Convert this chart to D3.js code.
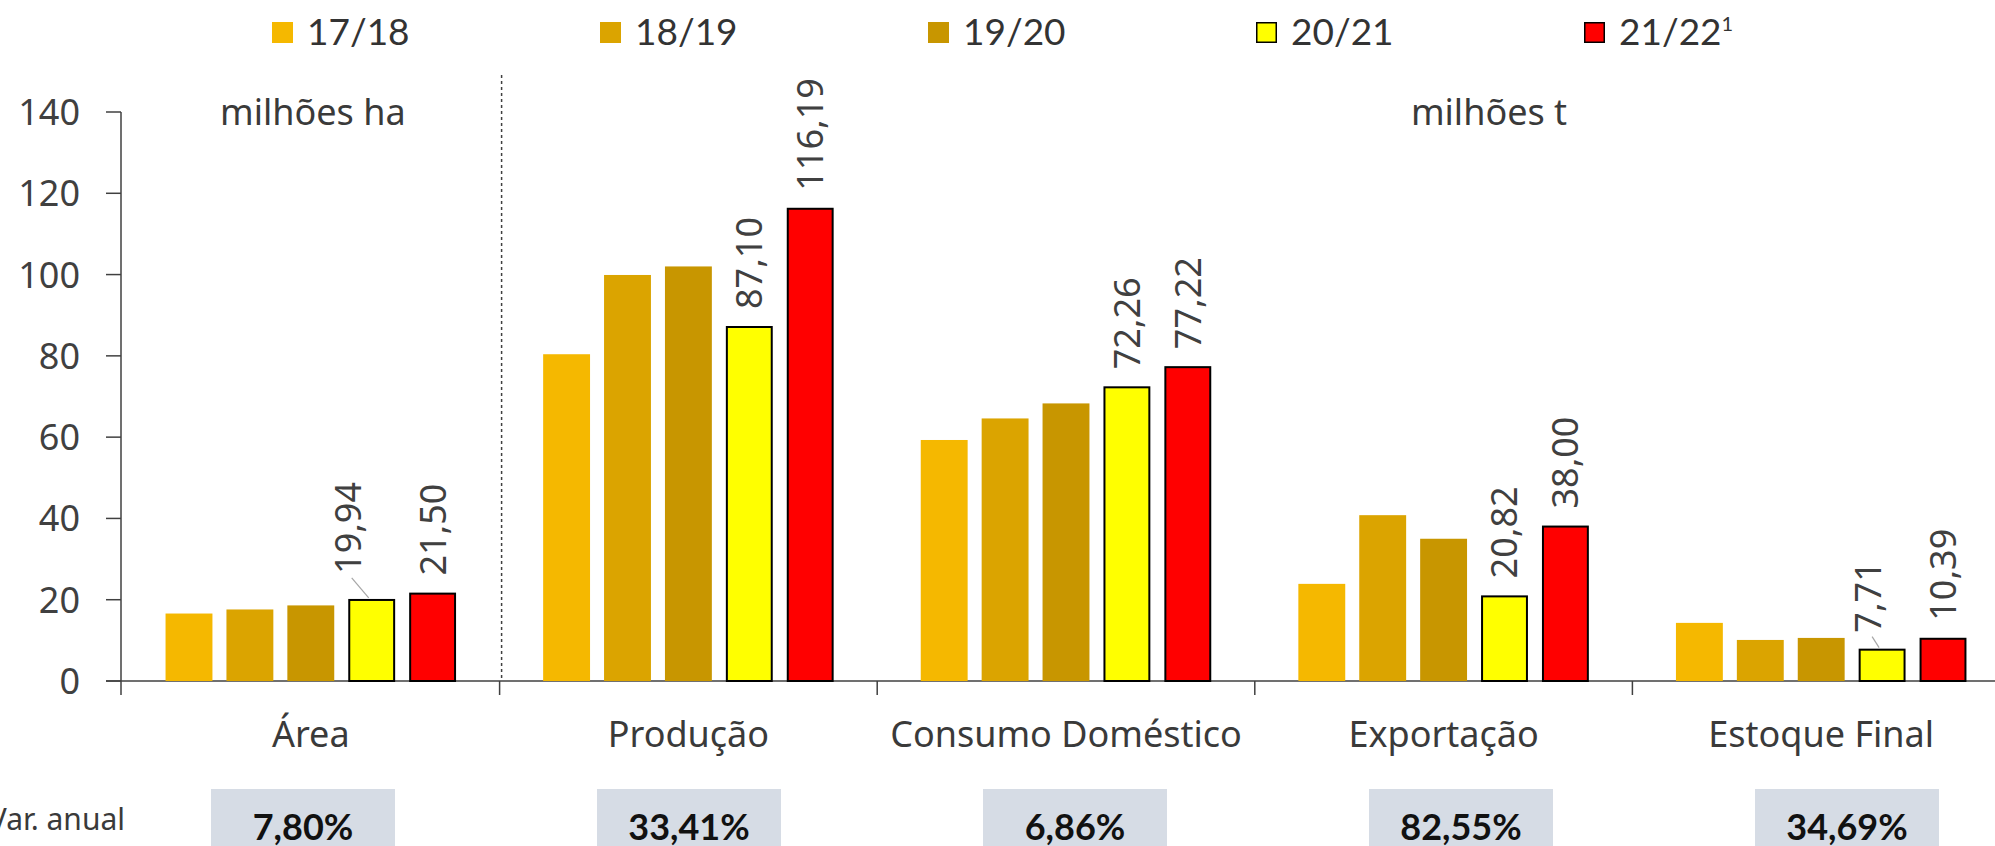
<!DOCTYPE html>
<html>
<head>
<meta charset="utf-8">
<script src="https://cdn.jsdelivr.net/npm/d3@7"></script>
<style>
  body { margin: 0; background: #fff; }
  svg { display: block; }
</style>
</head>
<body>
<div id="chart"></div>
<script>
// Dados
const categories = ['Área', 'Produção', 'Consumo Doméstico', 'Exportação', 'Estoque Final'];
const seasons = ['17/18', '18/19', '19/20', '20/21', '21/22'];
const v1718 = [16.6, 80.4, 59.3, 23.9, 14.3];
const v1819 = [17.6, 99.9, 64.6, 40.8, 10.1];
const v1920 = [18.6, 102.0, 68.3, 35.0, 10.6];
const v2021 = [19.94, 87.10, 72.26, 20.82, 7.71];
const v2122 = [21.50, 116.19, 77.22, 38.00, 10.39];
const labeledSeasons = ['20/21', '21/22'];
const varAnual = ['7,80%', '33,41%', '6,86%', '82,55%', '34,69%'];
const yTicks = [0, 20, 40, 60, 80, 100, 120, 140];

const seriesValues = [v1718, v1819, v1920, v2021, v2122];
const colors = ['#F5B800', '#DBA400', '#C89600', '#FFFF00', '#FF0000'];
const outlined = [false, false, false, true, true];

const W = 1995, H = 846;
const svg = d3.select('#chart').append('svg')
  .attr('width', W)
  .attr('height', H);

// Escalas
const x0 = d3.scaleBand().domain(categories).range([122, 2010]).padding(0);
const x1 = d3.scaleBand().domain(seasons).range([0, x0.bandwidth()])
  .paddingInner(0.23).paddingOuter(0.715);
const y = d3.scaleLinear().domain([0, 140]).range([681, 112]);

const fmt = v => d3.format('.2f')(v).replace('.', ',');

// Legenda
const legX = d3.scalePoint().domain(seasons).range([272, 272 + 4 * 328]);
const leg = svg.append('g').selectAll('g')
  .data(seasons)
  .enter().append('g')
  .attr('transform', d => 'translate(' + legX(d) + ',22)');
leg.append('rect')
  .attr('x', (d, i) => outlined[i] ? 0.75 : 0)
  .attr('y', (d, i) => outlined[i] ? 0.75 : 0)
  .attr('width', (d, i) => outlined[i] ? 19.5 : 21)
  .attr('height', (d, i) => outlined[i] ? 19.5 : 21)
  .style('fill', (d, i) => colors[i])
  .style('stroke', (d, i) => outlined[i] ? '#000' : 'none')
  .style('stroke-width', 1.5);
const legText = leg.append('text')
  .attr('x', 35).attr('y', 23)
  .style('font-family', 'Lato, "Liberation Sans", sans-serif')
  .style('font-size', '37px')
  .style('fill', '#333');
legText.append('tspan').text(d => d);
legText.filter(d => d === '21/22').append('tspan')
  .attr('dy', -14).style('font-size', '20px').text('1');

// Eixo Y
const yAxis = svg.append('g');
yAxis.append('line')
  .attr('x1', 121).attr('x2', 121)
  .attr('y1', y(140)).attr('y2', y(0))
  .style('stroke', '#404040').style('stroke-width', 1.5);
yAxis.selectAll('.ytick').data(yTicks).enter().append('line')
  .attr('x1', 106).attr('x2', 121)
  .attr('y1', d => y(d)).attr('y2', d => y(d))
  .style('stroke', '#404040').style('stroke-width', 1.5);
yAxis.selectAll('.ylab').data(yTicks).enter().append('text')
  .attr('x', 80).attr('y', d => y(d))
  .attr('dy', '0.36em')
  .attr('text-anchor', 'end')
  .style('font-family', '"Noto Sans", sans-serif')
  .style('font-size', '36px')
  .style('fill', '#404040')
  .text(d => d);

// Eixo X
svg.append('line')
  .attr('x1', 106).attr('x2', W)
  .attr('y1', y(0)).attr('y2', y(0))
  .style('stroke', '#404040').style('stroke-width', 1.5);
svg.selectAll('.xtick').data(categories.slice(1)).enter().append('line')
  .attr('x1', d => x0(d)).attr('x2', d => x0(d))
  .attr('y1', y(0)).attr('y2', y(0) + 14)
  .style('stroke', '#404040').style('stroke-width', 1.5);
svg.append('line')
  .attr('x1', 121).attr('x2', 121)
  .attr('y1', y(0)).attr('y2', y(0) + 14)
  .style('stroke', '#404040').style('stroke-width', 1.5);
svg.selectAll('.xlab').data(categories).enter().append('text')
  .attr('x', d => x0(d) + x0.bandwidth() / 2)
  .attr('y', 747)
  .attr('text-anchor', 'middle')
  .style('font-family', '"Noto Sans", sans-serif')
  .style('font-size', '36px')
  .style('fill', '#3a3a3a')
  .text(d => d);

// Linha tracejada separando área e toneladas
svg.append('line')
  .attr('x1', x0('Produção') + 2).attr('x2', x0('Produção') + 2)
  .attr('y1', 75).attr('y2', y(0))
  .style('stroke', '#404040').style('stroke-width', 1.5)
  .style('stroke-dasharray', '3,3');

// Unidades
svg.append('text')
  .attr('x', x0('Área') + x0.bandwidth() / 2 + 2).attr('y', 125)
  .attr('text-anchor', 'middle')
  .style('font-family', '"Noto Sans", sans-serif')
  .style('font-size', '36px').style('fill', '#3a3a3a')
  .text('milhões ha');
svg.append('text')
  .attr('x', 1489).attr('y', 125)
  .attr('text-anchor', 'middle')
  .style('font-family', '"Noto Sans", sans-serif')
  .style('font-size', '36px').style('fill', '#3a3a3a')
  .text('milhões t');

// Barras
const bars = [];
seasons.forEach((s, si) => {
  categories.forEach((c, ci) => {
    bars.push({ season: s, si: si, cat: c, value: seriesValues[si][ci] });
  });
});

svg.selectAll('.bar').data(bars).enter().append('rect')
  .attr('class', 'bar')
  .attr('x', d => x0(d.cat) + x1(d.season) + (outlined[d.si] ? 1 : 0))
  .attr('width', d => x1.bandwidth() - (outlined[d.si] ? 2 : 0))
  .attr('y', d => y(d.value))
  .attr('height', d => y(0) - y(d.value))
  .style('fill', d => colors[d.si])
  .style('stroke', d => outlined[d.si] ? '#000' : 'none')
  .style('stroke-width', 2);

// Rótulos
const leaderNudge = { 'Área|20/21': [-24, 26], 'Estoque Final|20/21': [-14, 17] };
const labelBars = bars.filter(d => labeledSeasons.includes(d.season));
labelBars.forEach(d => {
  const cx = x0(d.cat) + x1(d.season) + x1.bandwidth() / 2;
  const nudge = leaderNudge[d.cat + '|' + d.season] || [0, 18];
  d.lx = cx + nudge[0];
  d.ly = y(d.value) - nudge[1];
  d.cx = cx;
  d.leader = !!leaderNudge[d.cat + '|' + d.season];
});

svg.selectAll('.leader').data(labelBars.filter(d => d.leader)).enter().append('line')
  .attr('x1', d => d.lx + 4).attr('y1', d => d.ly + 4)
  .attr('x2', d => d.cx - 3).attr('y2', d => y(d.value) - 2)
  .style('stroke', '#a6a6a6').style('stroke-width', 1.2);

svg.selectAll('.vlab').data(labelBars).enter().append('text')
  .attr('transform', d => 'translate(' + d.lx + ',' + d.ly + ') rotate(-90)')
  .attr('dy', '0.36em')
  .attr('text-anchor', 'start')
  .style('font-family', '"Noto Sans", sans-serif')
  .style('font-size', '36px')
  .style('fill', '#404040')
  .text(d => fmt(d.value));

// Variação anual
const boxX = d3.scalePoint().domain(categories).range([303, 1847]);
svg.append('text')
  .attr('x', 125).attr('y', 830)
  .attr('text-anchor', 'end')
  .style('font-family', '"Noto Sans", sans-serif')
  .style('font-size', '30px').style('fill', '#3a3a3a')
  .text('Var. anual');
const boxes = svg.selectAll('.box').data(categories).enter().append('g')
  .attr('transform', d => 'translate(' + boxX(d) + ',789)');
boxes.append('rect')
  .attr('x', -92).attr('width', 184)
  .attr('height', 80)
  .style('fill', '#D6DCE5');
boxes.append('text')
  .attr('y', 51)
  .attr('text-anchor', 'middle')
  .style('font-family', 'Lato, "Liberation Sans", sans-serif')
  .style('font-weight', 'bold')
  .style('font-size', '36px')
  .style('fill', '#111')
  .text((d, i) => varAnual[i]);
</script>
</body>
</html>
